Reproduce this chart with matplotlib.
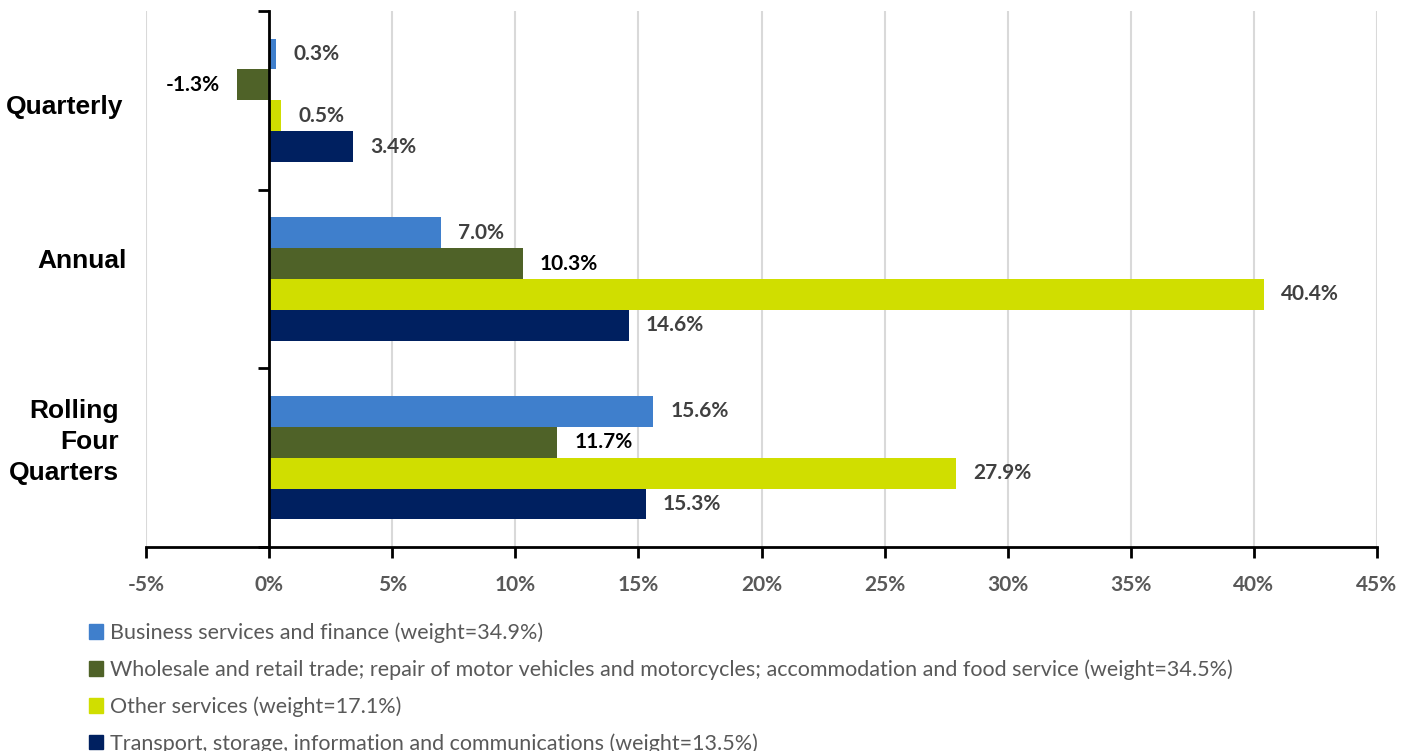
import numpy as np
import matplotlib.pyplot as plt
from matplotlib.patches import Patch
from matplotlib.transforms import blended_transform_factory

# categories (top to bottom) and series
periods = ["Quarterly", "Annual", "Rolling\nFour\nQuarters"]
series_names = [
    "Business services and finance (weight=34.9%)",
    "Wholesale and retail trade; repair of motor vehicles and motorcycles; accommodation and food service (weight=34.5%)",
    "Other services (weight=17.1%)",
    "Transport, storage, information and communications (weight=13.5%)",
]
business = [0.3, 7.0, 15.6]
wholesale = [-1.3, 10.3, 11.7]
other = [0.5, 40.4, 27.9]
transport = [3.4, 14.6, 15.3]
xticks = [-5, 0, 5, 10, 15, 20, 25, 30, 35, 40, 45]

colors = ["#3F7FCC", "#4F6228", "#D0DE00", "#002060"]
label_colors = ["#404040", "#000000", "#404040", "#404040"]

fig = plt.figure(figsize=(14.15, 7.51), dpi=100)
ax = fig.add_axes([146/1415, 1-547/751, 1231/1415, 536/751])

h = 0.173
y = np.arange(len(periods))
all_vals = [business, wholesale, other, transport]
for i, vals in enumerate(all_vals):
    pos = y + (i - 1.5) * h
    ax.barh(pos, vals, height=h, color=colors[i], zorder=3)
    for p, v in zip(pos, vals):
        off = 17 if v >= 0 else -17
        ax.annotate(f"{v:.1f}%", (v, p), xytext=(off, 0), textcoords="offset pixels",
                    ha="left" if v >= 0 else "right", va="center",
                    fontsize=15, fontweight="bold", color=label_colors[i],
                    family="Lato", zorder=4)

ax.set_xlim(-5, 45)
ax.set_ylim(2.5, -0.5)
ax.set_xticks(xticks)
ax.set_xticklabels([f"{t}%" for t in xticks], fontsize=15, fontweight="bold",
                   color="#595959", family="Lato")
ax.tick_params(axis="x", length=8, width=2, pad=12, color="black")
ax.set_yticks([-0.5, 0.5, 1.5, 2.5])
ax.set_yticklabels([])
ax.tick_params(axis="y", length=8, width=2, direction="out", color="black")
ax.grid(axis="x", color="#D9D9D9", linewidth=1.5, zorder=0)

for s in ["top", "right"]:
    ax.spines[s].set_visible(False)
ax.spines["left"].set_position(("data", 0))
ax.spines["left"].set_linewidth(2)
ax.spines["left"].set_zorder(5)
ax.spines["bottom"].set_linewidth(2)

# category labels sit a bit off-centre in the original
tr = blended_transform_factory(ax.transAxes, ax.transData)
label_shift = [(-23, -7), (-19, 18), (-27, 16)]
for yy, name, (dx, dy) in zip(y, periods, label_shift):
    ax.annotate(name, (0, yy), xycoords=tr, xytext=(dx, dy), textcoords="offset pixels",
                ha="right", va="center", multialignment="right", fontsize=19,
                fontweight="bold", family="Liberation Sans", color="black",
                linespacing=1.37)

handles = [Patch(color=c) for c in colors]
leg = fig.legend(handles, series_names, loc="upper left",
                 bbox_to_anchor=(70/1415, 1-603/751), frameon=False,
                 prop={"family": "Lato", "size": 15.5}, labelcolor="#595959",
                 handlelength=0.65, handleheight=0.65, handletextpad=0.3,
                 labelspacing=0.76)

fig.savefig("out.png", dpi=100)
